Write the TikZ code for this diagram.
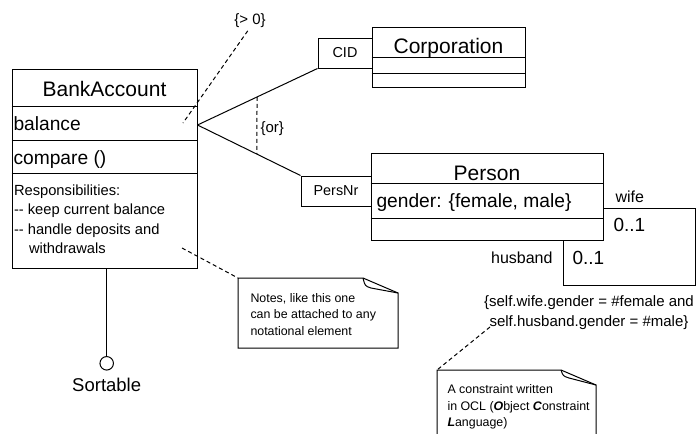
\documentclass[tikz,border=0pt]{standalone}
\usepackage{fontspec}
\setmainfont{Liberation Sans}
\usetikzlibrary{calc}

\begin{document}
\begin{tikzpicture}[
  x=1pt, y=-1pt, line width=1pt,
  cls/.style={draw, inner sep=0, anchor=center},
  keybox/.style={draw, inner sep=0, anchor=center, font=\fontsize{14.4}{17}\selectfont},
  clsname/.style={inner sep=0, anchor=base, font=\fontsize{21}{25}\selectfont},
  attr/.style={inner sep=0, anchor=base west, font=\fontsize{19.2}{23}\selectfont},
  resp/.style={inner sep=0, anchor=base west, align=left, font=\fontsize{14.7}{19.2}\selectfont},
  constr/.style={inner sep=0, font=\fontsize{15}{20}\selectfont},
  role/.style={inner sep=0, font=\fontsize{16}{19}\selectfont},
  mult/.style={inner sep=0, anchor=base west, font=\fontsize{19}{23}\selectfont},
  notetext/.style={inner sep=0, anchor=base west, align=left, font=\fontsize{12.4}{16.5}\selectfont},
  notebox/.style={inner sep=0, anchor=north west},
  dashline/.style={dash pattern=on 4pt off 3pt},
]
\useasboundingbox (0,0) rectangle (697,434);

% BankAccount class
\node[cls, minimum width=185pt, minimum height=199pt] (bank) at (104.5,168.5) {};
\draw (bank.west |- 0,106) -- (bank.east |- 0,106);
\draw (bank.west |- 0,140) -- (bank.east |- 0,140);
\draw (bank.west |- 0,173) -- (bank.east |- 0,173);
\node[clsname] (banktitle) at (104.5,96.7) {BankAccount};
\node[attr] (balance) at (13,130) {balance};
\node[attr] (compare) at (13,164) {compare ()};
% base of a multi-line node is its last line
\node[resp] (resps) at (13.5,253.3) {Responsibilities:\\-{}- keep current balance\\-{}- handle deposits and\\\hspace*{15pt}withdrawals};

% Corporation class
\node[cls, minimum width=153pt, minimum height=60pt] (corp) at (448.5,57) {};
\draw (corp.west |- 0,57) -- (corp.east |- 0,57);
\draw (corp.west |- 0,73) -- (corp.east |- 0,73);
\node[clsname] (corptitle) at (448.5,53.3) {Corporation};

% Person class
\node[cls, minimum width=232pt, minimum height=87pt] (person) at (487,196.5) {};
\draw (person.west |- 0,183) -- (person.east |- 0,183);
\draw (person.west |- 0,218) -- (person.east |- 0,218);
\node[clsname] (persontitle) at (487,180) {Person};
\node[attr] (gender) at (376,207) {gender: \{female, male\}};

% Qualifiers
\node[keybox, minimum width=54pt, minimum height=30pt] (cid) at (345,53) {CID};
\node[keybox, minimum width=70pt, minimum height=30pt] (persnr) at (336,191) {PersNr};

% Xor associations
\coordinate (bankout) at (bank.east |- 0,125);
\draw (bankout) -- (cid.south west);
\draw (bankout) -- (persnr.north west);
\draw[dashline] ($(bankout)!0.496!(cid.south west)$) -- ($(bankout)!0.577!(persnr.north west)$);
\node[constr, anchor=base west] (ortag) at (260,132.7) {\{or\}};

% Constraint on balance
\node[constr, anchor=base] (gtzero) at (250,24) {\{> 0\}};
\coordinate (balpt) at (183,123);
\draw[dashline, shorten <=4pt] (gtzero.south) -- (balpt);

% Marriage (self association)
\draw (person.east |- 0,208) -| (695,285) -| (person.south -| 563,0);
\node[role, anchor=base west] (wife) at (615,202) {wife};
\node[mult] (wifemult) at (613,231.7) {0..1};
\node[role, anchor=base east] (husband) at (553,263.3) {husband};
\node[mult] (husbmult) at (572,264) {0..1};
\node[constr, align=center, anchor=base] (ocl) at (589,326) {\{self.wife.gender = \#female and\\self.husband.gender = \#male\}};

% Interface
\node[draw, circle, minimum size=13.5pt, inner sep=0] (sortcirc) at (106.7,363.3) {};
\draw (bank.south -| sortcirc.north) -- (sortcirc.north);
\node[inner sep=0, anchor=base, font=\fontsize{18.5}{22}\selectfont] (sortable) at (106.7,391.7) {Sortable};

% Note 1
\node[notebox, minimum width=159pt, minimum height=69pt] (note1) at (238,278) {};
\draw (note1.north west) -- ($(note1.north east)+(-35,0)$) -- ($(note1.north east)+(0,15)$) -- (note1.south east) -- (note1.south west) -- cycle;
\draw ($(note1.north east)+(-35,0)$) .. controls ($(note1.north east)+(-33,8)$) .. ($(note1.north east)+(-27,10)$) -- ($(note1.north east)+(0,15)$);
\node[notetext] (note1txt) at (250,335) {Notes, like this one\\can be attached to any\\notational element};
\coordinate (resppt) at (182,248);
\draw[dashline] (resppt) -- (note1.north west);

% Note 2
\node[notebox, minimum width=158pt, minimum height=80pt] (note2) at (437,370) {};
\draw (note2.north west) -- ($(note2.north east)+(-35,0)$) -- ($(note2.north east)+(0,15)$) -- (note2.south east) -- (note2.south west) -- cycle;
\draw ($(note2.north east)+(-35,0)$) .. controls ($(note2.north east)+(-33,6)$) .. ($(note2.north east)+(-27,8)$) -- ($(note2.north east)+(0,15)$);
\node[notetext] (note2txt) at (447,426.7) {A constraint written\\in OCL (\textbf{\textit{O}}bject \textbf{\textit{C}}onstraint\\\textbf{\textit{L}}anguage)};
\coordinate (oclpt) at (490,327);
\draw[dashline] (oclpt) -- (note2.north west);

\end{tikzpicture}
\end{document}
